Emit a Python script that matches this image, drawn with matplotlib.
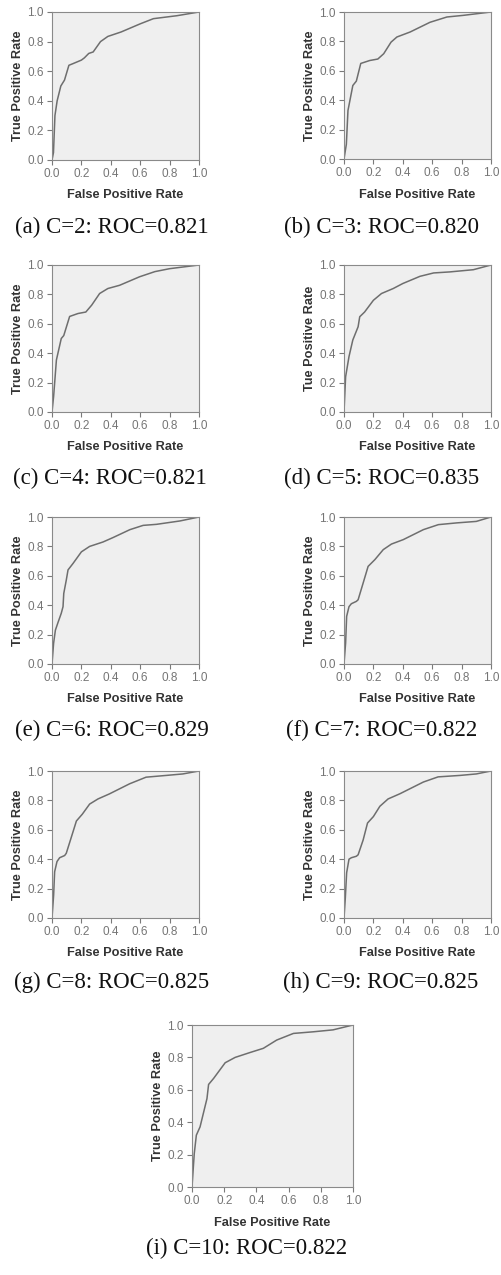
import matplotlib
matplotlib.use("Agg")
import matplotlib.pyplot as plt

# ROC curves (FPR, TPR)
fpr_a = [0, 0.01, 0.02, 0.035, 0.06, 0.085, 0.115, 0.14, 0.2, 0.22, 0.25, 0.28, 0.33, 0.38, 0.47, 0.6, 0.69, 0.85, 1]
tpr_a = [0, 0.05, 0.3, 0.4, 0.5, 0.54, 0.64, 0.65, 0.675, 0.69, 0.72, 0.73, 0.8, 0.835, 0.865, 0.92, 0.955, 0.975, 1]

fpr_b = [0, 0.016, 0.027, 0.06, 0.084, 0.114, 0.175, 0.23, 0.27, 0.32, 0.36, 0.45, 0.585, 0.7, 0.81, 1]
tpr_b = [0, 0.1, 0.33, 0.5, 0.53, 0.65, 0.67, 0.68, 0.716, 0.795, 0.83, 0.864, 0.93, 0.966, 0.977, 1]

fpr_c = [0, 0.011, 0.03, 0.063, 0.08, 0.12, 0.177, 0.23, 0.27, 0.324, 0.38, 0.46, 0.596, 0.7, 0.8, 1]
tpr_c = [0, 0.106, 0.354, 0.5, 0.52, 0.65, 0.67, 0.68, 0.727, 0.806, 0.84, 0.862, 0.92, 0.955, 0.975, 1]

fpr_d = [0, 0.011, 0.034, 0.06, 0.096, 0.107, 0.14, 0.2, 0.255, 0.335, 0.4, 0.517, 0.61, 0.72, 0.88, 1]
tpr_d = [0, 0.24, 0.377, 0.49, 0.58, 0.648, 0.68, 0.76, 0.806, 0.84, 0.874, 0.923, 0.946, 0.953, 0.968, 1]

fpr_e = [0, 0.011, 0.023, 0.04, 0.063, 0.075, 0.08, 0.097, 0.109, 0.143, 0.2, 0.256, 0.347, 0.415, 0.53, 0.62, 0.71, 0.87, 1]
tpr_e = [0, 0.142, 0.23, 0.28, 0.345, 0.39, 0.48, 0.57, 0.64, 0.684, 0.763, 0.8, 0.83, 0.86, 0.914, 0.943, 0.95, 0.973, 1]

fpr_f = [0, 0.011, 0.018, 0.034, 0.05, 0.084, 0.096, 0.13, 0.164, 0.21, 0.267, 0.323, 0.403, 0.54, 0.642, 0.768, 0.9, 1]
tpr_f = [0, 0.143, 0.324, 0.39, 0.41, 0.426, 0.437, 0.55, 0.664, 0.71, 0.778, 0.816, 0.846, 0.914, 0.948, 0.96, 0.97, 1]

fpr_g = [0, 0.011, 0.018, 0.034, 0.052, 0.086, 0.097, 0.13, 0.166, 0.206, 0.256, 0.313, 0.39, 0.528, 0.64, 0.778, 0.89, 1]
tpr_g = [0, 0.154, 0.315, 0.384, 0.41, 0.425, 0.44, 0.545, 0.66, 0.706, 0.775, 0.81, 0.844, 0.913, 0.958, 0.97, 0.98, 1]

fpr_h = [0, 0.009, 0.018, 0.034, 0.05, 0.084, 0.096, 0.13, 0.16, 0.2, 0.244, 0.3, 0.38, 0.54, 0.64, 0.79, 0.9, 1]
tpr_h = [0, 0.137, 0.308, 0.4, 0.41, 0.42, 0.43, 0.53, 0.646, 0.69, 0.76, 0.81, 0.845, 0.925, 0.96, 0.97, 0.98, 1]

fpr_i = [0, 0.014, 0.027, 0.05, 0.093, 0.103, 0.134, 0.206, 0.268, 0.36, 0.443, 0.526, 0.63, 0.753, 0.876, 1]
tpr_i = [0, 0.206, 0.32, 0.371, 0.546, 0.633, 0.67, 0.767, 0.8, 0.83, 0.856, 0.907, 0.948, 0.958, 0.97, 1]

captions = ["(a) C=2: ROC=0.821", "(b) C=3: ROC=0.820", "(c) C=4: ROC=0.821",
            "(d) C=5: ROC=0.835", "(e) C=6: ROC=0.829", "(f) C=7: ROC=0.822",
            "(g) C=8: ROC=0.825", "(h) C=9: ROC=0.825", "(i) C=10: ROC=0.822"]
ylabels = ["True Positive Rate"] * 9
ylabels[3] = "Tue Positive Rate"   # typo is in the original
ticks = [0.0, 0.2, 0.4, 0.6, 0.8, 1.0]
tick_labels = ["0.0", "0.2", "0.4", "0.6", "0.8", "1.0"]

curves = [(fpr_a, tpr_a), (fpr_b, tpr_b), (fpr_c, tpr_c), (fpr_d, tpr_d), (fpr_e, tpr_e),
          (fpr_f, tpr_f), (fpr_g, tpr_g), (fpr_h, tpr_h), (fpr_i, tpr_i)]

W, H = 501, 1275
# axes boxes in pixels: left, top, width, height ; caption centre x, y
boxes = [(52, 12, 147, 148, 112, 227), (344, 12, 147, 147, 381, 227),
         (52, 265, 147, 147, 110, 478), (344, 265, 147, 147, 382, 478),
         (52, 517, 147, 147, 112, 730), (344, 517, 147, 147, 382, 730),
         (52, 771, 147, 147, 112, 982), (344, 771, 147, 147, 381, 982),
         (192, 1025, 161, 162, 247, 1248)]

sans = ["Liberation Sans", "DejaVu Sans"]
serif = ["Liberation Serif", "DejaVu Serif"]

fig = plt.figure(figsize=(W / 100, H / 100), dpi=100)

for k in range(9):
    l, t, w, h, cx, cy = boxes[k]
    ax = fig.add_axes([l / W, 1 - (t + h) / H, w / W, h / H])
    ax.set_facecolor("#efefef")
    x, y = curves[k]
    ax.plot(x, y, color="#6e6e6e", lw=1.1, solid_joinstyle="round")
    ax.set_xlim(0, 1)
    ax.set_ylim(0, 1)
    ax.set_xticks(ticks)
    ax.set_yticks(ticks)
    ax.set_xticklabels(tick_labels, family=sans, fontsize=8.5, color="#757575")
    ax.set_yticklabels(tick_labels, family=sans, fontsize=8.5, color="#757575")
    ax.tick_params(direction="out", length=3.6, width=0.8, color="#7a7a7a", pad=2.5)
    for s in ax.spines.values():
        s.set_color("#8a8a8a")
        s.set_linewidth(0.8)
    ax.set_xlabel("False Positive Rate", family=sans, fontsize=9.2, fontweight="bold",
                  color="#333333", labelpad=6.5)
    ax.set_ylabel(ylabels[k], family=sans, fontsize=9.2, fontweight="bold",
                  color="#333333", labelpad=2.5)
    fig.text(cx / W, 1 - cy / H, captions[k], family=serif, fontsize=16.5,
             ha="center", va="center", color="#111111")

fig.savefig("out.png", dpi=100)
